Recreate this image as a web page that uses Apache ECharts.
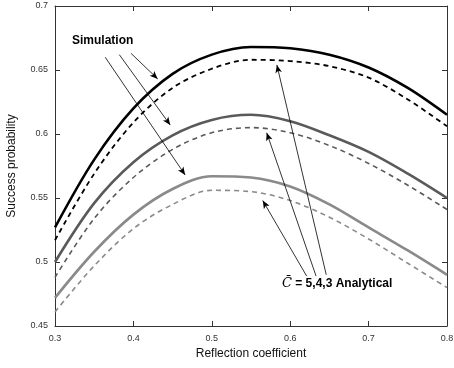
<!DOCTYPE html>
<html>
<head>
<meta charset="utf-8">
<script src="https://cdn.jsdelivr.net/npm/echarts@6/dist/echarts.min.js"></script>
<style>
  html, body { margin: 0; padding: 0; background: #fff; }
  #main { width: 454px; height: 368px; }
</style>
</head>
<body>
<div id="main"></div>
<script>
// reflection coefficient
const xs = [0.3, 0.35, 0.4, 0.45, 0.5, 0.55, 0.6, 0.65, 0.7, 0.75, 0.8];
// success probability, C = 5,4,3
const sim5 = [0.527, 0.580, 0.620, 0.647, 0.662, 0.668, 0.667, 0.662, 0.652, 0.636, 0.615];
const ana5 = [0.517, 0.569, 0.609, 0.636, 0.651, 0.658, 0.657, 0.653, 0.644, 0.627, 0.606];
const sim4 = [0.500, 0.546, 0.578, 0.599, 0.611, 0.615, 0.610, 0.599, 0.586, 0.569, 0.550];
const ana4 = [0.488, 0.534, 0.566, 0.588, 0.601, 0.605, 0.601, 0.591, 0.577, 0.560, 0.541];
const sim3 = [0.472, 0.508, 0.537, 0.557, 0.567, 0.566, 0.559, 0.545, 0.527, 0.509, 0.490];
const ana3 = [0.461, 0.497, 0.526, 0.545, 0.556, 0.555, 0.548, 0.535, 0.518, 0.499, 0.480];

// annotation arrows [from, to] in data units
const simArrows = [
  [[0.397, 0.663], [0.431, 0.643]],
  [[0.382, 0.662], [0.447, 0.607]],
  [[0.364, 0.660], [0.466, 0.568]]
];
const anaArrows = [
  [[0.646, 0.490], [0.583, 0.654]],
  [[0.633, 0.489], [0.570, 0.601]],
  [[0.621, 0.489], [0.565, 0.548]]
];

function pairs(ys) {
  return xs.map(function (x, i) { return [x, ys[i]]; });
}

function arrowData(list) {
  return list.map(function (a) {
    return [{ coord: a[0] }, { coord: a[1] }];
  });
}

function line(name, ys, color, width, dashed) {
  return {
    name: name,
    type: 'line',
    data: pairs(ys),
    smooth: 0.33,
    showSymbol: false,
    silent: true,
    lineStyle: {
      color: color,
      width: width,
      type: dashed ? [5, 4] : 'solid'
    }
  };
}

const myChart = echarts.init(document.getElementById('main'));

const axisCommon = {
  axisLine: { show: true, lineStyle: { color: '#333', width: 1 } },
  axisTick: { show: true, inside: true, length: 5, lineStyle: { color: '#333' } },
  splitLine: { show: false }
};

const series = [
  line('Simulation C=5', sim5, '#000', 2.6, false),
  line('Analytical C=5', ana5, '#000', 1.8, true),
  line('Simulation C=4', sim4, '#5a5a5a', 2.6, false),
  line('Analytical C=4', ana4, '#5a5a5a', 1.6, true),
  line('Simulation C=3', sim3, '#8a8a8a', 2.6, false),
  line('Analytical C=3', ana3, '#8a8a8a', 1.6, true)
];

series[0].markLine = {
  silent: true,
  symbol: ['none', 'arrow'],
  symbolSize: [5, 8],
  label: { show: false },
  lineStyle: { color: '#000', width: 0.8, type: 'solid' },
  data: arrowData(simArrows).concat(arrowData(anaArrows))
};

myChart.setOption({
  animation: false,
  backgroundColor: '#fff',
  grid: { left: 55, right: 7, top: 6, bottom: 42, outerBoundsMode: 'none' },
  xAxis: [
    Object.assign({
      type: 'value',
      min: 0.3,
      max: 0.8,
      interval: 0.1,
      name: 'Reflection coefficient',
      nameLocation: 'middle',
      nameGap: 21,
      nameTextStyle: { fontSize: 12, color: '#111', fontFamily: 'Liberation Sans' },
      axisLabel: { fontSize: 9, color: '#333', margin: 8, fontFamily: 'Liberation Sans' }
    }, axisCommon),
    Object.assign({
      type: 'value',
      position: 'top',
      min: 0.3,
      max: 0.8,
      interval: 0.1,
      axisLabel: { show: false }
    }, axisCommon)
  ],
  yAxis: [
    Object.assign({
      type: 'value',
      min: 0.45,
      max: 0.7,
      interval: 0.05,
      name: 'Success probability',
      nameLocation: 'middle',
      nameGap: 37,
      nameTextStyle: { fontSize: 12, color: '#111', fontFamily: 'Liberation Sans' },
      axisLabel: { fontSize: 9, color: '#333', margin: 7, fontFamily: 'Liberation Sans' }
    }, axisCommon),
    Object.assign({
      type: 'value',
      position: 'right',
      min: 0.45,
      max: 0.7,
      interval: 0.05,
      axisLabel: { show: false }
    }, axisCommon)
  ],
  graphic: [
    {
      type: 'text',
      left: 72,
      top: 35,
      style: {
        text: 'Simulation',
        font: 'bold 12px "Liberation Sans"',
        fill: '#000'
      }
    },
    {
      type: 'text',
      left: 282,
      top: 277,
      style: {
        text: '{c|C\u0304} = 5,4,3 Analytical',
        font: 'bold 12px "Liberation Sans"',
        fill: '#000',
        rich: {
          c: {
            fontFamily: 'DejaVu Serif',
            fontStyle: 'italic',
            fontWeight: 'normal',
            fontSize: 13,
            fill: '#000'
          }
        }
      }
    }
  ],
  series: series
});
</script>
</body>
</html>
